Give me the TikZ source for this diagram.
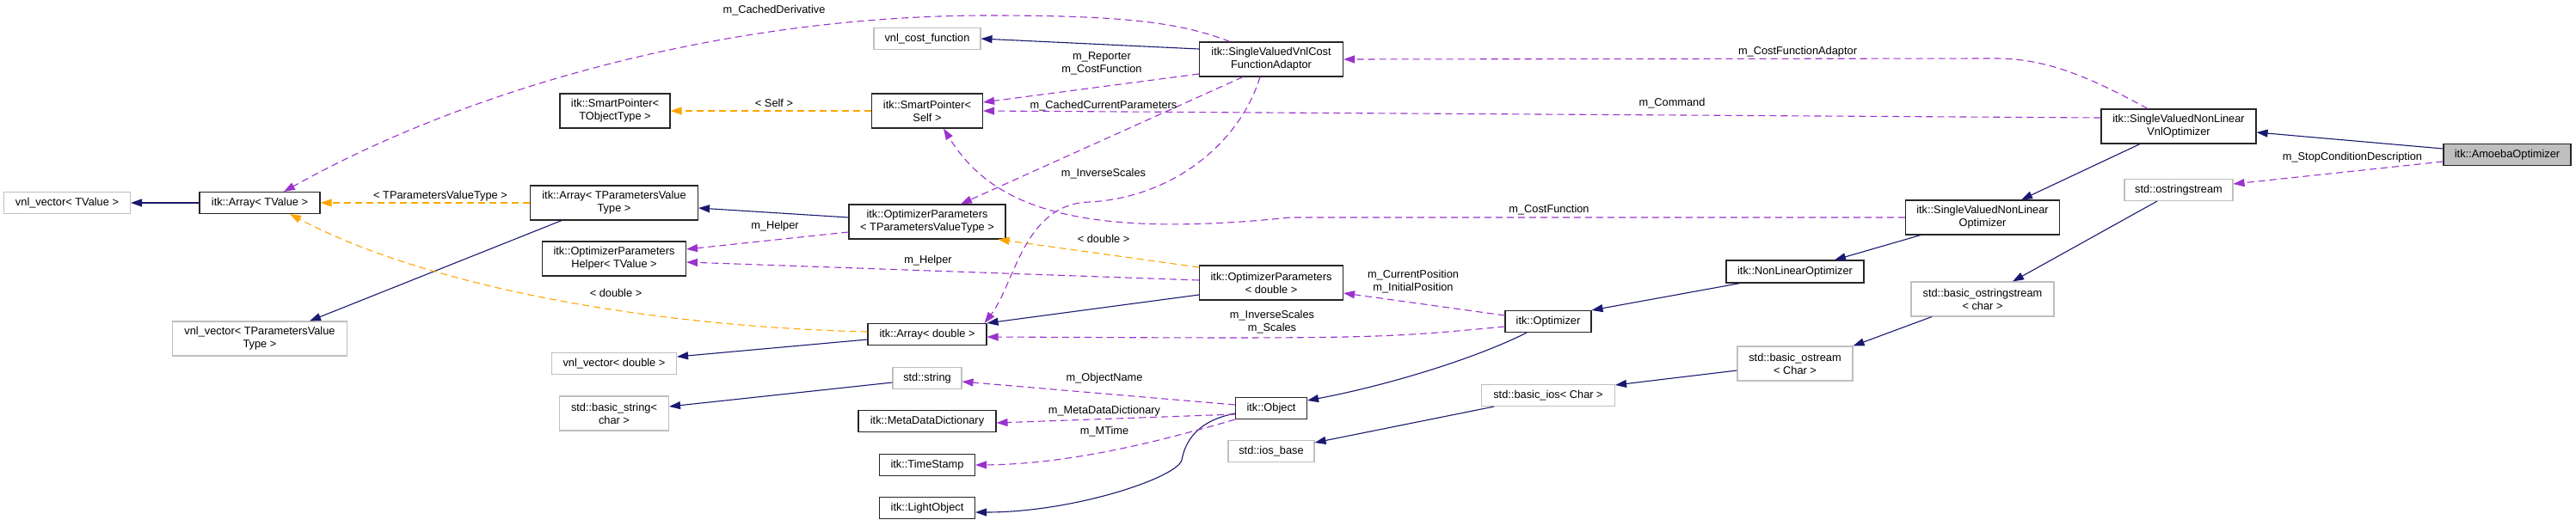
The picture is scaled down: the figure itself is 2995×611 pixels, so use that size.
\documentclass[tikz,border=0pt]{standalone}
\usepackage{fontspec}
\setmainfont{Liberation Sans}
\usetikzlibrary{arrows.meta}
\definecolor{inhC}{HTML}{191970}
\definecolor{useC}{HTML}{9A32CD}
\definecolor{tplC}{HTML}{FFA500}
\definecolor{extC}{HTML}{BFBFBF}
\definecolor{mainC}{HTML}{BFBFBF}

\begin{document}
\begin{tikzpicture}[x=1pt, y=-1pt, >={Triangle[length=13pt,width=9pt]},
  font=\fontsize{12.8}{15}\selectfont,
  cls/.style={draw=black!85, line width=1.1pt, inner sep=0pt, align=center, fill=white},
  ext/.style={cls, draw=extC},
  mainc/.style={cls, fill=mainC},
  inh/.style={->, draw=inhC, line width=1.1pt},
  tpl/.style={->, draw=tplC, line width=1.1pt, dash pattern=on 8pt off 5pt},
  use/.style={->, draw=useC, line width=1.1pt, dash pattern=on 8pt off 5pt}]
\useasboundingbox (0,0) rectangle (2995,611);
% 类
\node[ext, minimum width=147pt, minimum height=25pt] (vvT) at (78,236) {vnl\_vector< TValue >};
\node[cls, minimum width=140pt, minimum height=25pt] (arrT) at (302,236) {itk::Array< TValue >};
\node[cls, minimum width=128pt, minimum height=40pt] (spT) at (715,129) {itk::SmartPointer<\\TObjectType >};
\node[cls, minimum width=195pt, minimum height=40pt] (arrP) at (714,236) {itk::Array< TParametersValue\\Type >};
\node[cls, minimum width=167pt, minimum height=40pt] (helper) at (714,301) {itk::OptimizerParameters\\Helper< TValue >};
\node[ext, minimum width=203pt, minimum height=40pt] (vvP) at (302,394) {vnl\_vector< TParametersValue\\Type >};
\node[ext, minimum width=145pt, minimum height=25pt] (vvD) at (714,423) {vnl\_vector< double >};
\node[ext, minimum width=127pt, minimum height=40pt] (bstr) at (714,481) {std::basic\_string<\\char >};
\node[ext, minimum width=124pt, minimum height=25pt] (vcf) at (1078,45) {vnl\_cost\_function};
\node[cls, minimum width=129pt, minimum height=40pt] (spS) at (1078,129) {itk::SmartPointer<\\Self >};
\node[cls, minimum width=182pt, minimum height=40pt] (opP) at (1078,258) {itk::OptimizerParameters\\< TParametersValueType >};
\node[cls, minimum width=138pt, minimum height=25pt] (arrD) at (1078,389) {itk::Array< double >};
\node[ext, minimum width=80pt, minimum height=25pt] (str) at (1078,440) {std::string};
\node[cls, minimum width=160pt, minimum height=25pt] (mdd) at (1078,490) {itk::MetaDataDictionary};
\node[cls, minimum width=111pt, minimum height=25pt] (ts) at (1078,541) {itk::TimeStamp};
\node[cls, minimum width=111pt, minimum height=25pt] (lo) at (1078,591) {itk::LightObject};
\node[cls, minimum width=167pt, minimum height=40pt] (adapt) at (1478,69) {itk::SingleValuedVnlCost\\FunctionAdaptor};
\node[cls, minimum width=167pt, minimum height=40pt] (opD) at (1478,329) {itk::OptimizerParameters\\< double >};
\node[cls, minimum width=83pt, minimum height=25pt] (obj) at (1478,475) {itk::Object};
\node[ext, minimum width=100pt, minimum height=25pt] (iosb) at (1478,525) {std::ios\_base};
\node[cls, minimum width=100pt, minimum height=25pt] (opt) at (1800,374) {itk::Optimizer};
\node[ext, minimum width=155pt, minimum height=25pt] (bios) at (1800,460) {std::basic\_ios< Char >};
\node[cls, minimum width=179pt, minimum height=40pt] (svnl) at (2305,253) {itk::SingleValuedNonLinear\\Optimizer};
\node[cls, minimum width=160pt, minimum height=26pt] (nlo) at (2087,316) {itk::NonLinearOptimizer};
\node[ext, minimum width=166pt, minimum height=40pt] (bostrs) at (2305,348) {std::basic\_ostringstream\\< char >};
\node[ext, minimum width=134pt, minimum height=40pt] (bos) at (2087,423) {std::basic\_ostream\\< Char >};
\node[cls, minimum width=180pt, minimum height=40pt] (svnlv) at (2533,147) {itk::SingleValuedNonLinear\\VnlOptimizer};
\node[ext, minimum width=126pt, minimum height=25pt] (ostrs) at (2533,221) {std::ostringstream};
\node[mainc, minimum width=148pt, minimum height=25pt] (amoeba) at (2915,180) {itk::AmoebaOptimizer};
% 继承
\draw[inh] (arrT.west) -- (vvT.east);
\draw[inh] ([xshift=-61pt]arrP.south) -- ([xshift=58pt]vvP.north);
\draw[inh] ([yshift=5pt]opP.west) -- ([yshift=-6pt]arrP.east);
\draw[inh] ([yshift=-6pt]arrD.west) -- ([yshift=8pt]vvD.east);
\draw[inh] ([yshift=-5pt]str.west) -- ([yshift=8pt]bstr.east);
\draw[inh] ([yshift=-14pt]opD.west) -- (arrD.north east);
\draw[inh] ([yshift=12pt]adapt.west) -- (vcf.east);
\draw[inh] ([yshift=-6pt]obj.west) .. controls (1390,490) and (1378,515) .. (1374,535)
  .. controls (1370,555) and (1250,596) .. ([yshift=-5pt]lo.east);
\draw[inh] ([xshift=-25pt]opt.south) .. controls (1720,415) and (1620,447) .. ([yshift=9pt]obj.east);
\draw[inh] ([xshift=-63pt]bios.south) -- ([yshift=10pt]iosb.east);
\draw[inh] ([xshift=-64pt]nlo.south) -- (opt.north east);
\draw[inh] ([yshift=-8pt]bos.west) -- ([yshift=12pt]bios.east);
\draw[inh] ([xshift=-72pt]svnl.south) -- ([xshift=46pt]nlo.north);
\draw[inh] ([xshift=-59pt]bostrs.south) -- (bos.north east);
\draw[inh] ([xshift=-45pt]svnlv.south) -- ([xshift=45pt]svnl.north);
\draw[inh] ([xshift=-25pt]ostrs.south) -- ([xshift=35pt]bostrs.north);
\draw[inh] ([yshift=7pt]amoeba.west) -- ([yshift=-7pt]svnlv.east);
% 模板
\draw[tpl] (arrP.west) -- (arrT.east);
\draw[tpl] (spS.west) -- (spT.east);
\draw[tpl] ([yshift=18pt]opD.west) -- ([xshift=-9pt]opP.south east);
\draw[tpl] ([yshift=3pt]arrD.west) .. controls (760,380) and (500,335) .. ([xshift=35pt]arrT.south);
\node (lTpv) at (512,228) {< TParametersValueType >};
\node (lSelf) at (900,120) {< Self >};
\node (lDblA) at (1283,278) {< double >};
\node (lDblB) at (716,341) {< double >};
% 成员
\draw[use] ([xshift=-48pt]adapt.north) .. controls (1370,25) and (1300,18) .. (1150,18)
  .. controls (850,18) and (550,100) .. ([xshift=28pt]arrT.north);
\draw[use] ([yshift=-17pt]adapt.west) -- ([yshift=10pt]spS.east);
\draw[use] ([yshift=10pt]svnlv.west) -- (spS.east);
\draw[use] ([xshift=-33pt]adapt.south) -- ([xshift=39pt]opP.north);
\draw[use] ([xshift=-13pt]adapt.south) .. controls (1440,170) and (1360,230) .. (1267,235)
  .. controls (1190,237) and (1180,330) .. ([xshift=-3pt]arrD.north east);
\draw[use] (svnl.west) -- (1500,253) .. controls (1240,280) and (1150,235) .. ([xshift=19pt]spS.south);
\draw[use] ([yshift=3pt]opD.west) -- ([yshift=-4pt]helper.east);
\draw[use] ([yshift=-12pt]opP.west) -- ([yshift=11pt]helper.east);
\draw[use] ([yshift=7pt]opt.west) -- ([yshift=-12pt]opD.east);
\draw[use] ([yshift=-6pt]opt.west) .. controls (1600,394) .. ([yshift=-3pt]arrD.east);
\draw[use] ([yshift=4pt]obj.west) -- ([yshift=-4pt]str.east);
\draw[use] ([yshift=-7pt]obj.west) -- ([yshift=-2pt]mdd.east);
\draw[use] (obj.south west) .. controls (1360,510) and (1250,540) .. (ts.east);
\draw[use] ([yshift=-8pt]amoeba.west) -- ([yshift=7pt]ostrs.east);
\draw[use] ([xshift=-36pt]svnlv.north) .. controls (2430,90) and (2380,68) .. (2320,68) -- (adapt.east);
\node (lCD) at (900,12) {m\_CachedDerivative};
\node[align=center] (lRep) at (1281,74) {m\_Reporter\\m\_CostFunction};
\node (lCmd) at (1944,120) {m\_Command};
\node (lCCP) at (1283,123) {m\_CachedCurrentParameters};
\node (lIS) at (1283,202) {m\_InverseScales};
\node (lCF) at (1801,244) {m\_CostFunction};
\node (lHA) at (901,263) {m\_Helper};
\node (lHB) at (1079,303) {m\_Helper};
\node[align=center] (lPos) at (1643,328) {m\_CurrentPosition\\m\_InitialPosition};
\node[align=center] (lScl) at (1479,375) {m\_InverseScales\\m\_Scales};
\node (lON) at (1284,440) {m\_ObjectName};
\node (lMDD) at (1284,478) {m\_MetaDataDictionary};
\node (lMT) at (1284,502) {m\_MTime};
\node (lSCD) at (2735,183) {m\_StopConditionDescription};
\node (lCFA) at (2090,60) {m\_CostFunctionAdaptor};
\end{tikzpicture}
\end{document}
